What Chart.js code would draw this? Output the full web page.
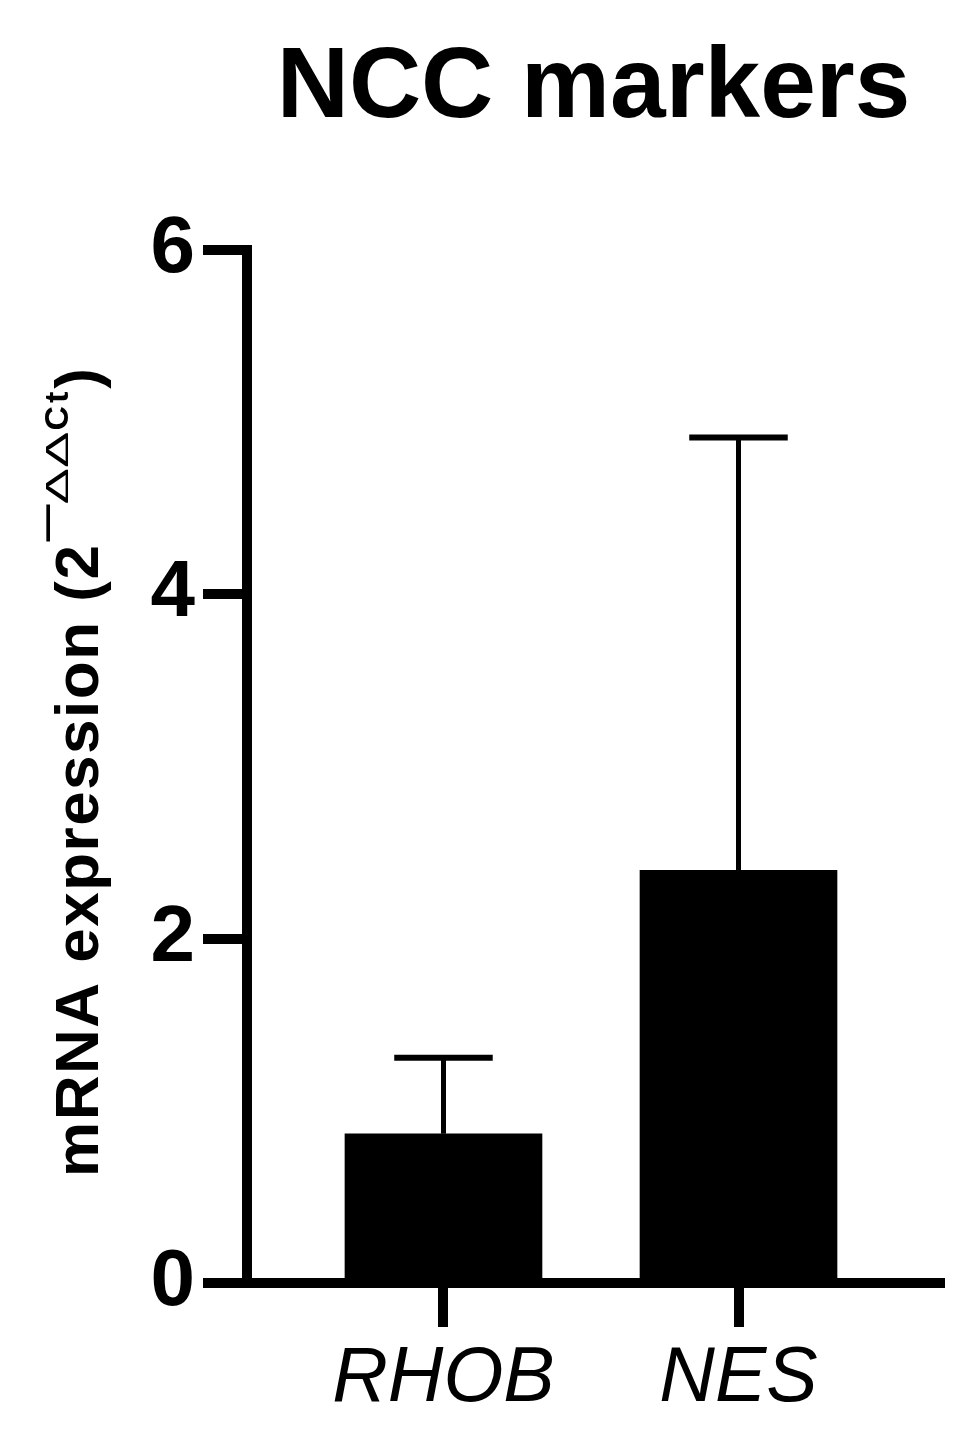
<!DOCTYPE html>
<html>
<head>
<meta charset="utf-8">
<script src="https://cdn.jsdelivr.net/npm/chart.js@4.4.1/dist/chart.umd.min.js"></script>
<style>
html,body{margin:0;padding:0;background:#ffffff;}
canvas{display:block;}
</style>
</head>
<body>
<canvas id="c" width="964" height="1438"></canvas>
<script>
// ---- data ----
const categories = ['RHOB', 'NES'];
const positions = [1, 2];
const means = [0.867, 2.397];
const sdUpper = [0.442, 2.514];
const yTicks = [0, 2, 4, 6];
const titleText = 'NCC markers';
const yTitleMain = 'mRNA expression (2';
const yTitleMinus = '\u2014';
const yTitleDelta = '\u0394\u0394';
const yTitleCt = 'Ct';
const yTitleEnd = ')';

const FAMILY = '"Liberation Sans", Arial, Helvetica, sans-serif';

const errorBarPlugin = {
  id: 'errorBars',
  afterDatasetsDraw(chart) {
    const ctx = chart.ctx;
    const meta = chart.getDatasetMeta(0);
    const ys = chart.scales.y;
    ctx.save();
    ctx.strokeStyle = '#000';
    ctx.lineCap = 'butt';
    meta.data.forEach((bar, i) => {
      const x = bar.x;
      const yTop = bar.y;
      const yErr = ys.getPixelForValue(means[i] + sdUpper[i]);
      const half = bar.width / 4;
      ctx.lineWidth = 5;
      ctx.beginPath();
      ctx.moveTo(x, yTop);
      ctx.lineTo(x, yErr);
      ctx.stroke();
      ctx.lineWidth = 6;
      ctx.beginPath();
      ctx.moveTo(x - half, yErr);
      ctx.lineTo(x + half, yErr);
      ctx.stroke();
    });
    ctx.restore();
  }
};

const textPlugin = {
  id: 'texts',
  afterDraw(chart) {
    const ctx = chart.ctx;
    const ca = chart.chartArea;
    ctx.save();
    ctx.fillStyle = '#000';
    // title
    ctx.font = 'bold 100px ' + FAMILY;
    ctx.textAlign = 'center';
    ctx.textBaseline = 'alphabetic';
    ctx.fillText(titleText, (ca.left + ca.right) / 2, 117);
    // y axis title (rotated) with superscript
    ctx.translate(98, 1177);
    ctx.rotate(-Math.PI / 2);
    ctx.textAlign = 'left';
    let x = 0;
    ctx.font = 'bold 62px ' + FAMILY;
    ctx.letterSpacing = '1.5px';
    ctx.fillText(yTitleMain, x, 0);
    x += ctx.measureText(yTitleMain).width + 2;
    ctx.letterSpacing = '0px';
    // minus (long dash) raised
    ctx.font = 'bold 37px ' + FAMILY;
    ctx.fillText(yTitleMinus, x, -40);
    x += ctx.measureText(yTitleMinus).width;
    // deltas, horizontally widened
    ctx.font = '32px ' + FAMILY;
    const dw = ctx.measureText(yTitleDelta).width;
    ctx.save();
    ctx.translate(x, -30);
    ctx.scale(73 / dw, 1);
    ctx.fillText(yTitleDelta, 0, 0);
    ctx.restore();
    x += 73 + 1;
    ctx.font = 'bold 34px ' + FAMILY;
    ctx.letterSpacing = '3px';
    ctx.fillText(yTitleCt, x, -30);
    x += ctx.measureText(yTitleCt).width;
    ctx.letterSpacing = '0px';
    ctx.font = 'bold 62px ' + FAMILY;
    ctx.fillText(yTitleEnd, x, 0);
    ctx.restore();
  }
};

new Chart(document.getElementById('c'), {
  type: 'bar',
  data: {
    datasets: [{
      data: positions.map((p, i) => ({ x: p, y: means[i] })),
      backgroundColor: '#000',
      borderWidth: 0,
      barThickness: 197
    }]
  },
  options: {
    responsive: false,
    animation: false,
    devicePixelRatio: 1,
    layout: { padding: { top: 250, right: 24, bottom: 0, left: 0 } },
    plugins: {
      legend: { display: false },
      title: { display: false },
      tooltip: { enabled: false }
    },
    scales: {
      x: {
        type: 'linear',
        offset: false,
        min: 0.334,
        max: 2.683,
        afterBuildTicks: s => { s.ticks = positions.map(v => ({ value: v })); },
        afterFit: s => { s.height = 155; },
        ticks: {
          callback: (v, i) => categories[i],
          font: { family: FAMILY, size: 77, style: 'italic', weight: 'normal' },
          color: '#000',
          padding: 6,
          maxRotation: 0,
          autoSkip: false
        },
        grid: { display: true, offset: false, drawOnChartArea: false, drawTicks: true, tickLength: 44, tickWidth: 10, lineWidth: 10, color: '#000' },
        border: { display: true, width: 10, color: '#000' }
      },
      y: {
        min: 0,
        max: 6,
        afterBuildTicks: s => { s.ticks = yTicks.map(v => ({ value: v })); },
        afterFit: s => { s.width = 247; },
        ticks: {
          font: { family: FAMILY, size: 80, weight: 'bold' },
          color: '#000',
          padding: 8
        },
        grid: { display: true, drawOnChartArea: false, drawTicks: true, tickLength: 44, tickWidth: 10, lineWidth: 10, color: '#000' },
        border: { display: true, width: 10, color: '#000' }
      }
    }
  },
  plugins: [errorBarPlugin, textPlugin]
});
</script>
</body>
</html>
